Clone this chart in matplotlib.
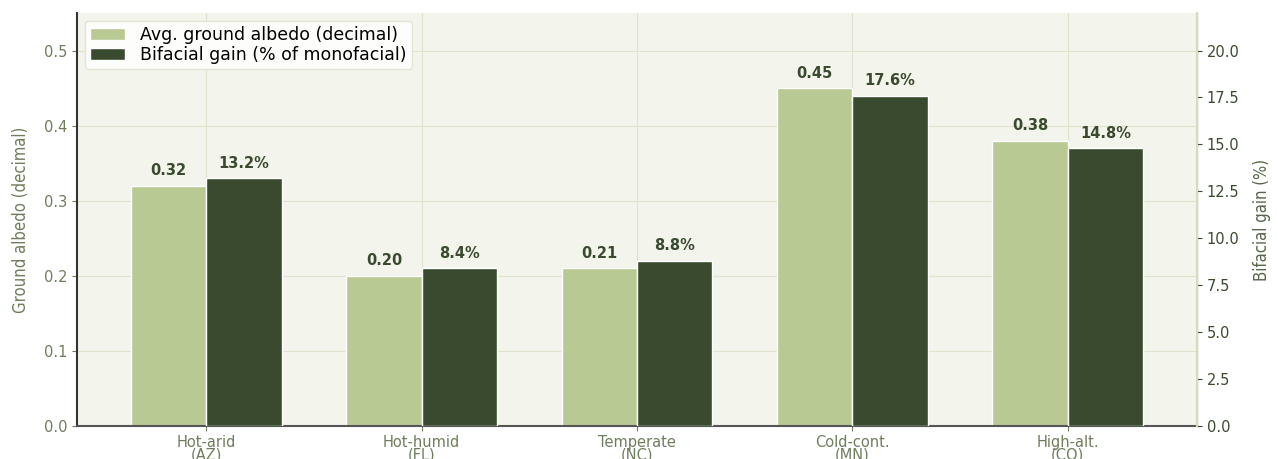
import numpy as np
import matplotlib
matplotlib.use("Agg")
import matplotlib.pyplot as plt

categories = ["Hot-arid\n(AZ)", "Hot-humid\n(FL)", "Temperate\n(NC)", "Cold-cont.\n(MN)", "High-alt.\n(CO)"]
albedo = [0.32, 0.20, 0.21, 0.45, 0.38]
gain = [13.2, 8.4, 8.8, 17.6, 14.8]

light = "#b8c994"
dark = "#3a4a2f"
bg = "#f3f4eb"
muted = "#6e7d5c"

fig = plt.figure(figsize=(12.78, 4.59), dpi=100)
ax = fig.add_axes([77 / 1278, 1 - 426 / 459, 1120 / 1278, 413 / 459])
ax.set_facecolor(bg)
ax2 = ax.twinx()

x = np.arange(len(categories))
w = 0.35
b1 = ax.bar(x - w / 2, albedo, w, color=light, edgecolor="white", linewidth=1,
            label="Avg. ground albedo (decimal)", zorder=2)
b2 = ax2.bar(x + w / 2, gain, w, color=dark, edgecolor="white", linewidth=1,
             label="Bifacial gain (% of monofacial)", zorder=2)

for rect, v in zip(b1, albedo):
    ax.text(rect.get_x() + rect.get_width() / 2, v + 0.010, "%.2f" % v,
            ha="center", va="bottom", fontsize=10.5, fontweight="bold", color=dark)
for rect, v in zip(b2, gain):
    ax2.text(rect.get_x() + rect.get_width() / 2, v + 0.4, "%.1f%%" % v,
             ha="center", va="bottom", fontsize=10.5, fontweight="bold", color=dark)

ax.set_xlim(-0.6, 4.6)
ax.set_ylim(0, 0.55)
ax2.set_ylim(0, 22)
ax.set_xticks(x)
ax.set_xticklabels(categories, fontsize=10.5, color=muted, linespacing=0.8)
ax.set_yticks([0.0, 0.1, 0.2, 0.3, 0.4, 0.5])
ax.tick_params(axis="y", labelsize=10.5, labelcolor=muted, color=muted)
ax.tick_params(axis="x", color=muted, pad=3)
ax2.set_yticks(np.arange(0, 20.1, 2.5))
ax2.tick_params(axis="y", labelsize=10.5, labelcolor=dark, color=dark)

ax.grid(True, color="#dfe3cf", linewidth=0.8, zorder=0)
ax.set_axisbelow(True)

ax.set_ylabel("Ground albedo (decimal)", fontsize=12, color=muted, fontstretch="condensed", labelpad=10)
ax2.set_ylabel("Bifacial gain (%)", fontsize=12, color="#56664a", fontstretch="condensed", labelpad=10)

for a in (ax, ax2):
    a.spines["top"].set_visible(False)
ax.spines["left"].set_color("#333333")
ax.spines["left"].set_linewidth(1.5)
ax.spines["bottom"].set_color("#555555")
ax.spines["bottom"].set_linewidth(1.5)
ax2.spines["left"].set_visible(False)
ax2.spines["bottom"].set_visible(False)
ax2.spines["right"].set_color("#d6dcc0")
ax2.spines["right"].set_linewidth(1.5)

h1, l1 = ax.get_legend_handles_labels()
h2, l2 = ax2.get_legend_handles_labels()
ax2.legend(h1 + h2, l1 + l2, loc="upper left", fontsize=12.5, framealpha=0.9,
           edgecolor="#dfe3cf", labelspacing=0.1, handlelength=2.0,
           handletextpad=0.9, borderpad=0.3, borderaxespad=0.45)

fig.savefig("out.png", dpi=100, facecolor="white")
